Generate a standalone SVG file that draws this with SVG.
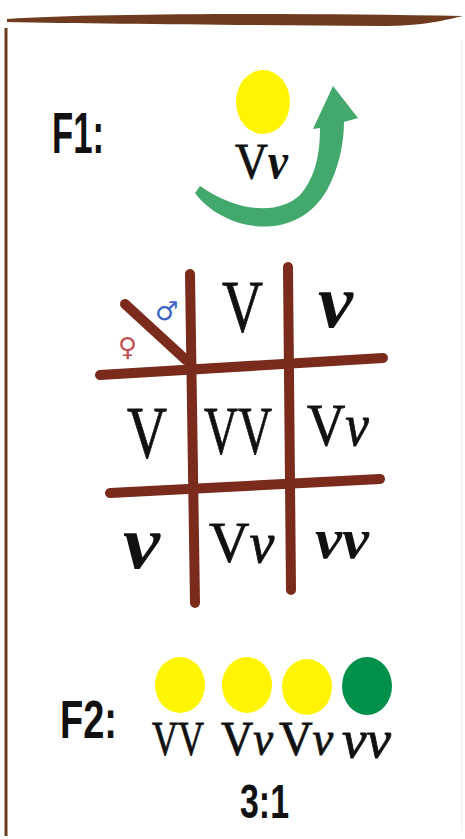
<svg xmlns="http://www.w3.org/2000/svg" width="465" height="839" viewBox="0 0 465 839">
  <defs>
    <linearGradient id="botGrad" x1="0" y1="0" x2="1" y2="0">
      <stop offset="0" stop-color="#7a4a2a"/>
      <stop offset="0.5" stop-color="#a07050"/>
      <stop offset="1" stop-color="#e8d8c8"/>
    </linearGradient>
  </defs>
  <style>
    .sans { font-family: "Liberation Sans", Arial, sans-serif; font-weight: bold; fill: #111; }
    .serif { font-family: "Liberation Serif", "Times New Roman", serif; fill: #111; stroke: #111; stroke-width: 0.8; }
    .it { font-style: italic; }
    .bit { font-style: italic; font-weight: bold; stroke-width: 0; }
    .grid { stroke: #7a2b1c; stroke-width: 10; stroke-linecap: round; fill: none; }
    .yellow { fill: #fff500; }
    .green { fill: #03904a; }
    .frame { fill: #6e3b1e; }
  </style>
  <rect x="0" y="0" width="465" height="839" fill="#ffffff"/>

  <g id="frame">
    <path class="frame" d="M 7 19 C 100 13, 300 13, 463 16 C 445 20, 425 26, 380 26 C 250 25, 100 24, 7 22 Z"/>
    <line x1="6" y1="28" x2="6" y2="836" stroke="#6e3b1e" stroke-width="3"/>
    <line x1="14" y1="837.5" x2="465" y2="837.5" stroke="url(#botGrad)" stroke-width="2"/>
    <line x1="462" y1="40" x2="462" y2="830" stroke="#f2eeea" stroke-width="1"/>
  </g>

  <g id="f1-label">
    <text class="sans" x="52" y="153" font-size="57" textLength="52" lengthAdjust="spacingAndGlyphs">F1:</text>
  </g>

  <g id="f1-pea">
    <ellipse class="yellow" cx="263" cy="102" rx="27" ry="32"/>
    <text class="serif" x="0" y="0" font-size="50" transform="translate(235,178) scale(0.91,1)">V<tspan class="bit">v</tspan></text>
  </g>

  <g id="connectors">
    <path id="selfing-arrow" fill="#42a86c" d="M 195 193 C 222 230, 295 246, 327 190 C 338 170, 344 145, 344 122 L 358 118 L 333 86 L 313 129 L 320 128 C 320 160, 313 180, 300 195 C 280 214, 240 214, 200 186 Z"/>
  </g>

  <g id="punnett-grid">
    <line class="grid" x1="190" y1="274" x2="195" y2="603"/>
    <line class="grid" x1="288" y1="267" x2="291" y2="590"/>
    <line class="grid" x1="100" y1="375" x2="383" y2="358"/>
    <line class="grid" x1="110" y1="493" x2="380" y2="479"/>
    <line class="grid" x1="125" y1="304" x2="186" y2="360" stroke-width="9"/>
  </g>

  <g id="male-symbol">
    <text x="155" y="320" font-family="'DejaVu Sans', sans-serif" font-size="26" fill="#3b63c4">♂</text>
  </g>
  <g id="female-symbol">
    <text x="118" y="356" font-family="'DejaVu Sans', sans-serif" font-size="26" fill="#c05050">♀</text>
  </g>

  <g id="cell-top-V">
    <text class="serif" x="222" y="332" font-size="74" textLength="41" lengthAdjust="spacingAndGlyphs">V</text>
  </g>
  <g id="cell-top-v">
    <text class="serif bit" x="318" y="327" font-size="76" textLength="35" lengthAdjust="spacingAndGlyphs">v</text>
  </g>
  <g id="cell-left-V">
    <text class="serif" x="127" y="458" font-size="75" textLength="40" lengthAdjust="spacingAndGlyphs">V</text>
  </g>
  <g id="cell-VV">
    <text class="serif" x="204" y="453" font-size="68" textLength="68" lengthAdjust="spacingAndGlyphs">VV</text>
  </g>
  <g id="cell-Vv-right">
    <text class="serif" x="0" y="0" font-size="60" transform="translate(307,445) scale(0.885,1)">V<tspan class="it">v</tspan></text>
  </g>
  <g id="cell-left-v">
    <text class="serif bit" x="123" y="568" font-size="76" textLength="37" lengthAdjust="spacingAndGlyphs">v</text>
  </g>
  <g id="cell-Vv-bottom">
    <text class="serif" x="209" y="562" font-size="56">V<tspan class="it">v</tspan></text>
  </g>
  <g id="cell-vv">
    <text class="serif bit" x="315" y="558" font-size="58" textLength="54" lengthAdjust="spacingAndGlyphs">vv</text>
  </g>

  <g id="f2-label">
    <text class="sans" x="60" y="738" font-size="53" textLength="57" lengthAdjust="spacingAndGlyphs">F2:</text>
  </g>

  <g id="f2-pea-VV">
    <ellipse class="yellow" cx="180" cy="685" rx="25" ry="28"/>
    <text class="serif" x="152" y="755" font-size="48" textLength="52" lengthAdjust="spacingAndGlyphs">VV</text>
  </g>
  <g id="f2-pea-Vv-1">
    <ellipse class="yellow" cx="247" cy="685" rx="25" ry="28"/>
    <text class="serif" x="0" y="0" font-size="48" transform="translate(221,755) scale(0.93,1)">V<tspan class="it">v</tspan></text>
  </g>
  <g id="f2-pea-Vv-2">
    <ellipse class="yellow" cx="307" cy="687" rx="25" ry="28"/>
    <text class="serif" x="0" y="0" font-size="48" transform="translate(279,755) scale(0.97,1)">V<tspan class="it">v</tspan></text>
  </g>
  <g id="f2-pea-vv">
    <ellipse class="green" cx="367" cy="686" rx="25" ry="29"/>
    <text class="serif it" x="342" y="757" font-size="52" textLength="49" lengthAdjust="spacingAndGlyphs">vv</text>
  </g>

  <g id="ratio">
    <text class="sans" x="240" y="818" font-size="49" textLength="49" lengthAdjust="spacingAndGlyphs">3:1</text>
  </g>
</svg>
